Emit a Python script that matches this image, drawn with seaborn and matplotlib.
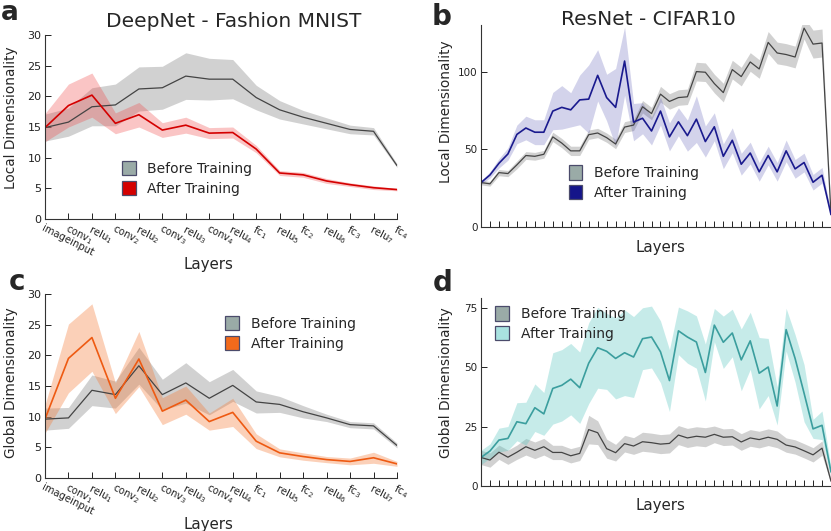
import numpy as np
import pandas as pd
import matplotlib
matplotlib.use("Agg")
import matplotlib.pyplot as plt
from matplotlib.patches import Patch
import seaborn as sns

# ---------------- data ----------------
deep_layers = ["imageinput", r"conv$_1$", r"relu$_1$", r"conv$_2$", r"relu$_2$",
               r"conv$_3$", r"relu$_3$", r"conv$_4$", r"relu$_4$", r"fc$_1$",
               r"relu$_5$", r"fc$_2$", r"relu$_6$", r"fc$_3$", r"relu$_7$", r"fc$_4$"]

a_before = [14.9, 15.8, 18.3, 18.6, 21.2, 21.4, 23.3, 22.8, 22.8, 19.8, 17.8, 16.6, 15.6, 14.6, 14.3, 8.7]
a_before_sd = [2.2, 2.3, 3.1, 3.4, 3.6, 3.5, 3.8, 3.4, 3.2, 2.0, 1.5, 1.1, 0.9, 0.7, 0.6, 0.3]
a_after = [14.9, 18.5, 20.2, 15.6, 17.0, 14.5, 15.3, 14.0, 14.1, 11.4, 7.5, 7.2, 6.2, 5.6, 5.1, 4.8]
a_after_sd = [2.3, 3.5, 3.6, 1.7, 2.0, 1.2, 1.3, 0.9, 0.9, 0.6, 0.4, 0.4, 0.4, 0.3, 0.3, 0.2]

c_before = [9.6, 9.8, 14.3, 13.6, 18.3, 13.6, 15.5, 13.0, 15.1, 12.4, 12.0, 10.8, 9.8, 8.7, 8.5, 5.3]
c_before_sd = [1.8, 1.7, 2.5, 2.2, 3.0, 2.5, 3.3, 2.7, 2.6, 1.8, 1.3, 1.0, 0.6, 0.5, 0.5, 0.4]
c_after = [9.6, 19.5, 22.9, 13.0, 19.4, 10.9, 12.7, 9.2, 10.7, 6.0, 4.1, 3.5, 3.0, 2.7, 3.3, 2.3]
c_after_sd = [2.3, 5.6, 5.5, 2.5, 4.5, 2.2, 2.3, 1.4, 2.3, 1.2, 0.65, 0.6, 0.5, 0.55, 0.9, 0.4]

b_before = [28.6, 27.8, 35, 34.4, 40, 46, 45.5, 46.8, 58, 54, 49, 49, 59.4, 60.5, 57.5, 53.4,
            64.3, 65.6, 77.4, 73, 85.5, 80.8, 83.3, 83.8, 100, 99.6, 92.3, 86.5, 101.3, 96.8,
            106.2, 101.7, 118.8, 112, 111, 109.4, 128, 117.7, 118.4, 8]
b_before_sd = [1.5, 1.5, 2, 2, 2.5, 2.5, 2.5, 2.5, 3, 3, 3, 3, 3, 3, 3, 3, 3.5, 3.5, 4, 4,
               5, 5, 5, 5, 6, 6, 6, 6, 6, 6, 6, 6, 7, 7, 7, 7, 7, 9, 9, 1]
b_after = [28.6, 33.5, 41, 47, 59.6, 63.7, 61, 61, 74.6, 77, 75.4, 81.8, 82.3, 97.6, 83.3, 77,
           106.8, 67.5, 70, 61.8, 74.6, 58, 67.7, 58.8, 69.4, 55, 64.5, 45.5, 55.8, 40.4,
           47.6, 35.5, 46, 35.5, 49, 37.4, 41.5, 28.8, 33.3, 8]
b_after_sd = [1, 2, 3, 4, 6, 7.6, 8, 8, 12, 14, 11, 16, 22, 16.5, 15, 25, 22, 12, 10, 9,
              9, 9, 9, 10, 15, 10, 9, 8, 8, 7, 7, 6, 6, 6, 7, 6, 6, 5, 5, 1]

d_before = [12, 10.9, 14.2, 12.1, 14.2, 16.5, 15, 16.5, 14.1, 14.1, 12.7, 13.7, 23.7, 22.4,
            15.7, 14, 17.8, 16.8, 18.6, 18.2, 17.6, 17.9, 21.4, 20.2, 20.9, 20.5, 21.7, 20.5,
            20.7, 18.5, 20.2, 19.5, 20.5, 19.6, 17.2, 16.4, 14.8, 13.1, 15.9, 2]
d_before_sd = [3, 3, 3, 3, 3, 3.5, 3.5, 3.5, 3, 3, 3, 3, 6, 5, 4, 3.5, 3.5, 3.5, 4, 4,
               4, 4, 4, 4, 4, 4, 3.5, 3.5, 3.5, 3.5, 3.5, 3.5, 3.5, 3.5, 3, 3, 3, 3, 3, 1]
d_after = [12, 14.7, 19.3, 20, 27, 26.2, 32.9, 30.3, 41, 42.3, 44.9, 41.3, 51.6, 58.1, 56.6,
           53.6, 56, 54.2, 61.9, 62.6, 56.4, 44.3, 65.2, 62.6, 60.5, 47.7, 67.6, 60.4, 64.3,
           53, 61, 47.4, 50, 33.6, 65.7, 53.6, 39, 24, 25.5, 5.9]
d_after_sd = [3, 3, 5, 5, 8, 9, 10, 9, 15, 15, 15, 15, 17, 17, 16, 17, 18, 17, 13, 13,
              13, 13, 10, 11, 11, 12, 7, 11, 10, 13, 12, 15, 12, 8, 9, 10, 12, 4, 6, 2]

legend_labels = ["Before Training", "After Training"]

# ---------------- style ----------------
sns.set_style("ticks")
plt.rcParams["font.family"] = ["DejaVu Sans"]
plt.rcParams["axes.linewidth"] = 0.8
plt.rcParams["axes.edgecolor"] = "#333333"

GRAY_LINE = "#444444"
GRAY_BAND = "#9a9a9a"
PATCH_EDGE = "#4b4b6b"
BEFORE_PATCH = "#9aaba7"

fig = plt.figure(figsize=(8.31, 5.31), dpi=100)

W, H = 831, 531


def px_axes(x0, x1, ytop, ybot):
    return fig.add_axes([x0 / W, 1 - ybot / H, (x1 - x0) / W, (ybot - ytop) / H])


def draw_panel(ax, before, before_sd, after, after_sd, line_col, band_col, band_alpha,
               patch_col, ylabel, ymax, yticks, tick_size):
    n = len(before)
    x = np.arange(n)
    before = np.array(before)
    after = np.array(after)
    ax.fill_between(x, before - np.array(before_sd), before + np.array(before_sd),
                    color=GRAY_BAND, alpha=0.45, linewidth=0)
    ax.fill_between(x, after - np.array(after_sd), after + np.array(after_sd),
                    color=band_col, alpha=band_alpha, linewidth=0)
    df = pd.DataFrame({"layer": np.concatenate([x, x]),
                       "dim": np.concatenate([before, after]),
                       "cond": ["Before"] * n + ["After"] * n})
    sns.lineplot(data=df, x="layer", y="dim", hue="cond",
                 palette={"Before": GRAY_LINE, "After": line_col},
                 size="cond", sizes={"Before": 0.9, "After": 1.2},
                 legend=False, ax=ax)
    ax.set_xlim(0, n - 1)
    ax.set_ylim(0, ymax)
    ax.set_yticks(yticks)
    ax.set_ylabel(ylabel, fontsize=9.8)
    ax.set_xlabel("Layers", fontsize=10.8)
    sns.despine(ax=ax)
    ax.tick_params(direction="in", length=4, width=0.7, labelsize=tick_size,
                   colors="#222222", pad=2.5)
    handles = [Patch(facecolor=BEFORE_PATCH, edgecolor=PATCH_EDGE, linewidth=0.9),
               Patch(facecolor=patch_col, edgecolor=PATCH_EDGE, linewidth=0.9)]
    return handles


def deep_ticks(ax):
    ax.set_xticks(range(len(deep_layers)))
    ax.set_xticklabels(deep_layers, rotation=-27, ha="left", va="top",
                       rotation_mode="anchor", fontsize=7.2)
    ax.tick_params(axis="x", pad=3)


def add_legend(ax, handles, x, y):
    ax.legend(handles, legend_labels, loc="upper left", bbox_to_anchor=(x, y),
              frameon=False, fontsize=10, handlelength=1.0, handleheight=1.2,
              handletextpad=0.85, labelspacing=0.35, borderpad=0, borderaxespad=0)


# ---- panel a ----
ax_a = px_axes(45, 397, 35, 219)
h = draw_panel(ax_a, a_before, a_before_sd, a_after, a_after_sd,
               "#d40000", "#f04040", 0.3, "#d40000", "Local Dimensionality", 30,
               [0, 5, 10, 15, 20, 25, 30], 8)
deep_ticks(ax_a)
add_legend(ax_a, h, 0.218, 0.315)
ax_a.xaxis.set_label_coords(0.463, -0.205)
ax_a.yaxis.set_label_coords(-0.078, 0.55)

# ---- panel b ----
ax_b = px_axes(481, 831, 25, 227)
h = draw_panel(ax_b, b_before, b_before_sd, b_after, b_after_sd,
               "#1a1a8e", "#5050b0", 0.25, "#15158a", "Local Dimensionality", 130,
               [0, 50, 100], 7.5)
ax_b.set_xticks(range(len(b_before)))
ax_b.set_xticklabels([])
add_legend(ax_b, h, 0.25, 0.305)
ax_b.xaxis.set_label_coords(0.514, -0.062)
ax_b.yaxis.set_label_coords(-0.08, 0.57)

# ---- panel c ----
ax_c = px_axes(45, 397, 294, 478)
h = draw_panel(ax_c, c_before, c_before_sd, c_after, c_after_sd,
               "#ee5a12", "#f57a35", 0.35, "#f26a1b", "Global Dimensionality", 30,
               [0, 5, 10, 15, 20, 25, 30], 8)
deep_ticks(ax_c)
add_legend(ax_c, h, 0.512, 0.88)
ax_c.xaxis.set_label_coords(0.463, -0.21)
ax_c.yaxis.set_label_coords(-0.078, 0.52)

# ---- panel d ----
ax_d = px_axes(481, 831, 298, 486)
h = draw_panel(ax_d, d_before, d_before_sd, d_after, d_after_sd,
               "#3b9e9e", "#5cc8c2", 0.35, "#a9e2e0", "Global Dimensionality", 79,
               [0, 25, 50, 75], 7.5)
ax_d.set_xticks(range(len(d_before)))
ax_d.set_xticklabels([])
add_legend(ax_d, h, 0.04, 0.955)
ax_d.xaxis.set_label_coords(0.514, -0.062)
ax_d.yaxis.set_label_coords(-0.08, 0.55)

# ---- titles and panel letters ----
fig.text(234 / W, 1 - 27 / H, "DeepNet - Fashion MNIST", fontsize=14.5,
         ha="center", va="baseline")
fig.text(648 / W, 1 - 25 / H, "ResNet - CIFAR10", fontsize=14.5,
         ha="center", va="baseline")
fig.text(1 / W, 1 - 0.5 / H, "a", fontsize=19, fontweight="bold", ha="left", va="top")
for letter, xp, yp in [("b", 432, 25), ("c", 9, 290), ("d", 433, 291)]:
    fig.text(xp / W, 1 - yp / H, letter, fontsize=20, fontweight="bold",
             ha="left", va="baseline")

fig.savefig("out.png", dpi=100)
